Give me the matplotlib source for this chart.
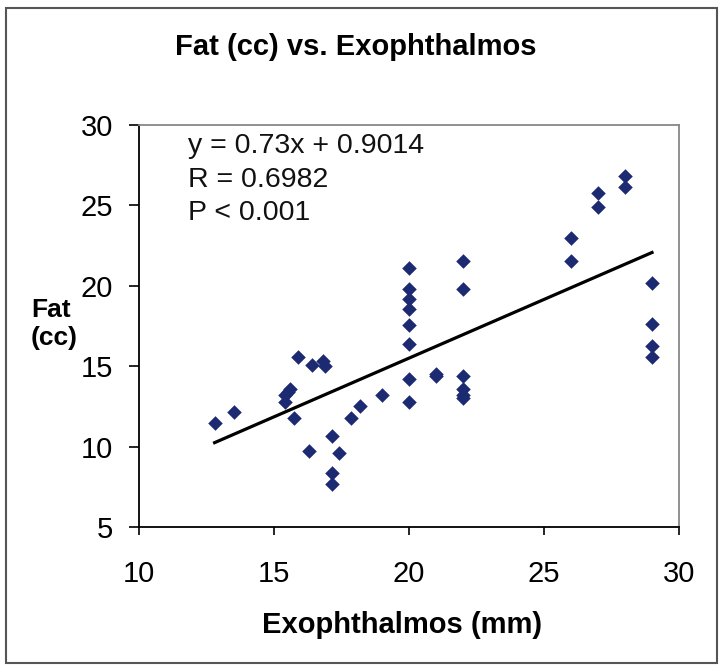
import numpy as np
import matplotlib
matplotlib.use("Agg")
from matplotlib import pyplot as plt
from matplotlib.patches import Rectangle

# ------------------
# data
# ------------------
exophthalmos = [12.8, 13.5, 15.4, 15.4, 15.5, 15.6, 15.75, 15.9, 16.4, 16.8, 16.9,
                16.3, 17.15, 17.4, 17.15, 17.15, 17.85, 18.2, 19.0,
                20, 20, 20, 20, 20, 20, 20, 20,
                21, 21,
                22, 22, 22, 22, 22, 22,
                26, 26, 27, 27, 28, 28,
                29, 29, 29, 29]
fat_cc = [11.45, 12.15, 12.8, 13.2, 13.4, 13.6, 11.75, 15.6, 15.1, 15.3, 15.0,
          9.7, 10.65, 9.6, 8.35, 7.7, 11.75, 12.5, 13.2,
          21.1, 19.8, 19.2, 18.55, 17.55, 16.4, 14.2, 12.75,
          14.4, 14.5,
          21.55, 19.8, 14.4, 13.6, 13.2, 13.05,
          22.95, 21.55, 25.8, 24.9, 26.8, 26.15,
          20.2, 17.65, 16.25, 15.6]
slope = 0.73
intercept = 0.9014
stats_lines = ["y = 0.73x + 0.9014", "R = 0.6982", "P < 0.001"]
x_ticks = [10, 15, 20, 25, 30]
y_ticks = [5, 10, 15, 20, 25, 30]

plt.rcParams['font.family'] = ['Liberation Sans', 'DejaVu Sans']

fig = plt.figure(figsize=(7.23, 6.70), dpi=100)
ax = fig.add_axes([139/723, 1-527/670, 540/723, 402/670])

# points
ax.scatter(exophthalmos, fat_cc, marker='D', s=55, color='#1c2a72', zorder=3, linewidths=0)

# trend line
xl = np.array([min(exophthalmos), max(exophthalmos)])
ax.plot(xl, slope*xl + intercept, color='black', lw=2.3, zorder=2)

for i, s in enumerate(stats_lines):
	ax.text(0.09, 0.93 - i*0.083, s, transform=ax.transAxes, fontsize=20.5, color='#111111')

ax.set_xlim(10, 30)
ax.set_ylim(5, 30)
ax.set_xticks(x_ticks)
ax.set_yticks(y_ticks)
ax.tick_params(axis='x', direction='out', length=6, width=1.2, labelsize=21, pad=18)
ax.tick_params(axis='y', direction='out', length=7.5, width=1.2, labelsize=21, pad=11)
for side in ['left', 'bottom']:
	ax.spines[side].set_color('black')
	ax.spines[side].set_linewidth(1.3)
for side in ['top', 'right']:
	ax.spines[side].set_color('#888888')
	ax.spines[side].set_linewidth(1.3)

# titles
fig.text(356/723, 1-47/670, "Fat (cc) vs. Exophthalmos", ha='center', va='center',
         fontsize=21, fontweight='bold')
fig.text(402/723, 1-625/670, "Exophthalmos (mm)", ha='center', va='center',
         fontsize=21, fontweight='bold')
fig.text(31/723, 1-324/670, "Fat\n(cc)", ha='left', va='center', fontsize=19,
         fontweight='bold', linespacing=1.2, multialignment='left')

# outer frame
fig.patches.append(Rectangle((6/723, 7/670), 711/723, 655/670, transform=fig.transFigure,
                             fill=False, edgecolor='#555555', lw=1.5))

fig.savefig("out.png", dpi=100, facecolor='white')
